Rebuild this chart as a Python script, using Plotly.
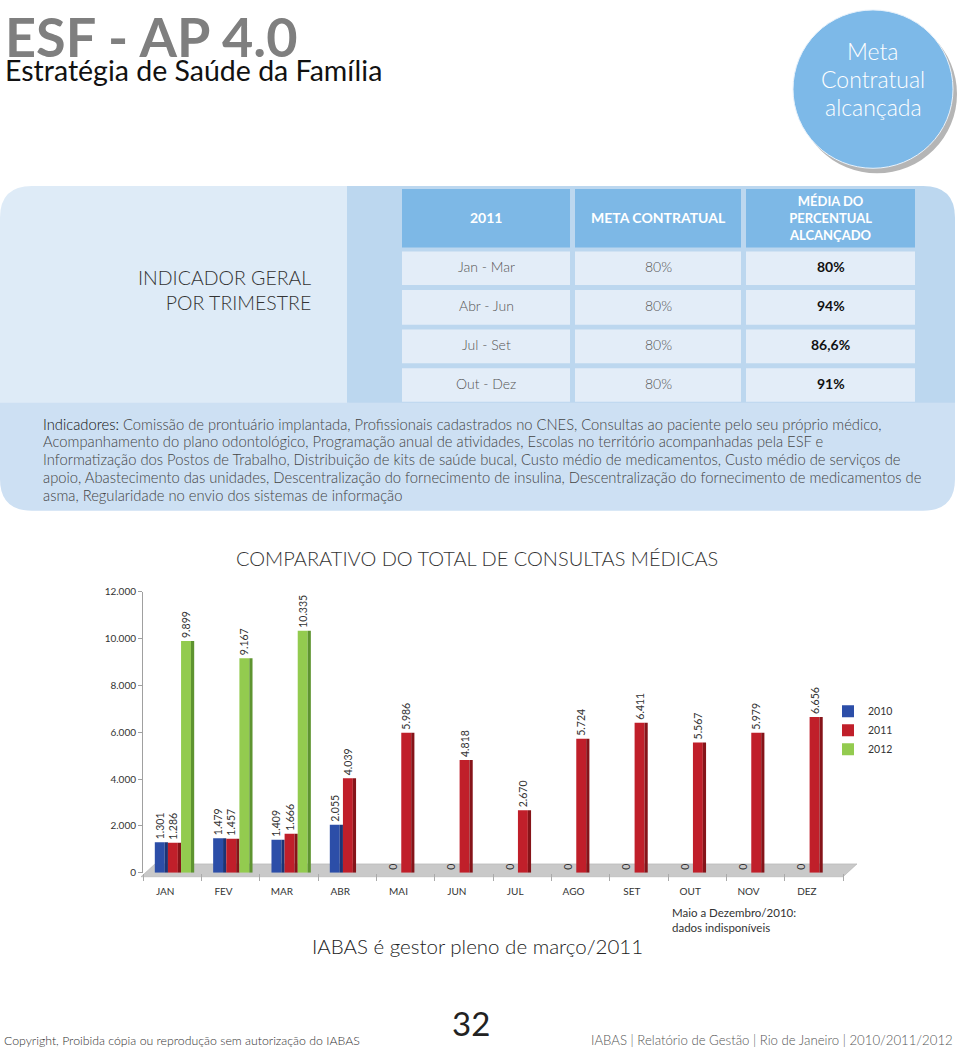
import plotly.graph_objects as go

W, H = 960, 1050

# ---------------- data ----------------
months = ["JAN", "FEV", "MAR", "ABR", "MAI", "JUN", "JUL", "AGO", "SET", "OUT", "NOV", "DEZ"]
v2010 = [1301, 1479, 1409, 2055, 0, 0, 0, 0, 0, 0, 0, 0]
v2011 = [1286, 1457, 1666, 4039, 5986, 4818, 2670, 5724, 6411, 5567, 5979, 6656]
v2012 = [9899, 9167, 10335, 0, 0, 0, 0, 0, 0, 0, 0, 0]
series_names = ["2010", "2011", "2012"]
y_ticks = [0, 2000, 4000, 6000, 8000, 10000, 12000]

table_header = ["2011", "META CONTRATUAL", "MÉDIA DO<br>PERCENTUAL<br>ALCANÇADO"]
quarters = ["Jan - Mar", "Abr - Jun", "Jul - Set", "Out - Dez"]
meta = ["80%", "80%", "80%", "80%"]
media = ["80%", "94%", "86,6%", "91%"]

indicadores_lines = [
    "Comissão de prontuário implantada, Profissionais cadastrados no CNES, Consultas ao paciente pelo seu próprio médico,",
    "Acompanhamento do plano odontológico, Programação anual de atividades, Escolas no território acompanhadas pela ESF e",
    "Informatização dos Postos de Trabalho, Distribuição de kits de saúde bucal, Custo médio de medicamentos, Custo médio de serviços de",
    "apoio, Abastecimento das unidades, Descentralização do fornecimento de insulina, Descentralização do fornecimento de medicamentos de",
    "asma, Regularidade no envio dos sistemas de informação",
]

FONT = "Lato"


def px(x):
    return x / W


def py(y):
    return 1 - y / H


def fmt(v):
    return f"{v:,}".replace(",", ".")


def rrect(x0, y0, x1, y1, tl=0, tr=0, br=0, bl=0):
    pts = []
    pts.append(f"M {px(x0 + tl)},{py(y0)}")
    pts.append(f"L {px(x1 - tr)},{py(y0)}")
    if tr:
        pts.append(f"Q {px(x1)},{py(y0)} {px(x1)},{py(y0 + tr)}")
    pts.append(f"L {px(x1)},{py(y1 - br)}")
    if br:
        pts.append(f"Q {px(x1)},{py(y1)} {px(x1 - br)},{py(y1)}")
    pts.append(f"L {px(x0 + bl)},{py(y1)}")
    if bl:
        pts.append(f"Q {px(x0)},{py(y1)} {px(x0)},{py(y1 - bl)}")
    pts.append(f"L {px(x0)},{py(y0 + tl)}")
    if tl:
        pts.append(f"Q {px(x0)},{py(y0)} {px(x0 + tl)},{py(y0)}")
    pts.append("Z")
    return " ".join(pts)


shapes = []
annots = []


def rect(x0, y0, x1, y1, color):
    shapes.append(dict(type="rect", xref="paper", yref="paper", x0=px(x0), x1=px(x1),
                       y0=py(y1), y1=py(y0), fillcolor=color, line=dict(width=0), layer="below"))


def text(x, y, s, size, color="#333333", xanchor="left", yanchor="middle", family=FONT,
         bold=False, weight=None):
    if bold:
        s = f"<b>{s}</b>"
    f = dict(family=family, size=size, color=color)
    if weight:
        f["weight"] = weight
    annots.append(dict(x=px(x), y=py(y), xref="paper", yref="paper", text=s, showarrow=False,
                       xanchor=xanchor, yanchor=yanchor,
                       align="center" if xanchor == "center" else xanchor,
                       font=f))


# ---------------- header ----------------
text(3, 31, "ESF - AP 4.0", 54, "#7f7f7f", bold=True)
text(3, 65, "Estratégia de Saúde da Família", 28.5, "#111111")

# circle
cx, cy, r = 873, 84, 80
shapes.append(dict(type="circle", xref="paper", yref="paper", x0=px(cx - r + 4), x1=px(cx + r + 4),
                   y0=py(cy + r + 5), y1=py(cy - r + 5), fillcolor="rgba(90,90,90,0.45)",
                   line=dict(width=0), layer="below"))
shapes.append(dict(type="circle", xref="paper", yref="paper", x0=px(cx - r), x1=px(cx + r),
                   y0=py(cy + r), y1=py(cy - r), fillcolor="#7db9e8",
                   line=dict(width=1, color="#e8f2fb"), layer="below"))
for i, s in enumerate(["Meta", "Contratual", "alcançada"]):
    text(cx, 45 + i * 28.5, s, 23, "#ffffff", xanchor="center", weight=300)

# ---------------- panel ----------------
shapes.append(dict(type="path", xref="paper", yref="paper", path=rrect(0, 400, 955, 510, br=32, bl=32),
                   fillcolor="#cde0f3", line=dict(width=0), layer="below"))
shapes.append(dict(type="path", xref="paper", yref="paper", path=rrect(0, 182, 349, 401, tl=32),
                   fillcolor="#deebf7", line=dict(width=0), layer="below"))
shapes.append(dict(type="path", xref="paper", yref="paper", path=rrect(347, 182, 955, 401, tr=32),
                   fillcolor="#bcd7ef", line=dict(width=0), layer="below"))

cols = [(402, 570), (575, 741), (746, 915)]
rows = [(248, 282), (287, 322), (327, 361), (366, 400)]
for (x0, x1), h in zip(cols, table_header):
    rect(x0, 185, x1, 244, "#7db8e6")
    text((x0 + x1) / 2, 214, h, 13 if "<br>" in h else 14, "#ffffff", xanchor="center", bold=True)
for ri, (y0, y1) in enumerate(rows):
    for ci, (x0, x1) in enumerate(cols):
        rect(x0, y0, x1, y1, "#e3edf8")
    yc = (y0 + y1) / 2 - 2
    text((cols[0][0] + cols[0][1]) / 2, yc, quarters[ri], 14, "#555555", xanchor="center", weight=300)
    text((cols[1][0] + cols[1][1]) / 2, yc, meta[ri], 14, "#555555", xanchor="center", weight=300)
    text((cols[2][0] + cols[2][1]) / 2, yc, media[ri], 14, "#111111", xanchor="center", bold=True)

text(313, 287, "INDICADOR GERAL<br>POR TRIMESTRE", 19.5, "#333333", xanchor="right", weight=300)

for i, line in enumerate(indicadores_lines):
    s = ("<span style='color:#111111'>Indicadores:</span> " + line) if i == 0 else line
    text(41, 422 + i * 18.1, s, 14.75, "#444444", weight=300)

# ---------------- chart texts ----------------
text(477, 558, "COMPARATIVO DO TOTAL DE CONSULTAS MÉDICAS", 20, "#333333", xanchor="center", weight=300)
text(670, 924, "Maio a Dezembro/2010:<br>dados indisponíveis", 11.5, "#333333")
text(477, 950, "IABAS é gestor pleno de março/2011", 20.5, "#222222", xanchor="center", weight=300)

# footer
text(2, 1045, "Copyright, Proibida cópia ou reprodução sem autorização do IABAS", 12.3, "#333333",
     weight=300)
text(471, 1050, "32", 33, "#222222", xanchor="center", yanchor="bottom")
text(955, 1045, "IABAS | Relatório de Gestão | Rio de Janeiro | 2010/2011/2012", 13.2, "#555555",
     xanchor="right", weight=300)

# floor of 3D chart
shapes.append(dict(type="path", xref="paper", yref="paper",
                   path=f"M {px(141)},{py(880)} L {px(843)},{py(880)} L {px(857)},{py(867)} L {px(155)},{py(867)} Z",
                   fillcolor="#c9c9c9", line=dict(width=0.6, color="#b0b0b0"), layer="below"))

# ---------------- bars ----------------
face_colors = ["#2c4ea8", "#c01f2a", "#93cb4f"]
side_colors = ["#1c3475", "#861419", "#5e9430"]
series = [v2010, v2011, v2012]
fw, sw, pitch = 0.17, 0.055, 0.225
start = -1.5 * pitch + 0.04

fig = go.Figure()
for i, (vals, name) in enumerate(zip(series, series_names)):
    off = start + i * pitch
    if i == 2:
        labels = [fmt(v) if v > 0 else "" for v in vals]
    else:
        labels = [fmt(v) for v in vals]
    fig.add_trace(go.Bar(x=months, y=vals, name=name, offset=off, width=fw,
                         marker=dict(color=face_colors[i], line=dict(width=0)),
                         text=labels, textposition="outside", textangle=-90, constraintext="none",
                         textfont=dict(family=FONT, size=10.5, color="#333333"),
                         cliponaxis=False, hoverinfo="x+y+name", legendrank=i))
    fig.add_trace(go.Bar(x=months, y=vals, name=name + " ", offset=off + fw, width=sw,
                         marker=dict(color=side_colors[i], line=dict(width=0)),
                         showlegend=False, hoverinfo="skip", cliponaxis=False))

fig.update_layout(
    width=W, height=H, autosize=False,
    margin=dict(l=0, r=0, t=0, b=0),
    paper_bgcolor="#ffffff", plot_bgcolor="rgba(0,0,0,0)",
    barmode="overlay", separators=",.",
    shapes=shapes, annotations=annots,
    font=dict(family=FONT, color="#333333"),
    showlegend=True,
    legend=dict(x=px(828), y=py(698), xanchor="left", yanchor="top",
                font=dict(family=FONT, size=10.5, color="#333333"),
                bgcolor="rgba(0,0,0,0)", tracegroupgap=0, itemwidth=30),
    xaxis=dict(domain=[px(143), px(843)], type="category", showline=False, showgrid=False,
               ticks="outside", tickson="boundaries", ticklen=7, tickcolor="#aaaaaa",
               tickfont=dict(family=FONT, size=10, color="#333333"), ticklabelshift=-7,
               ticklabelstandoff=11, zeroline=False, fixedrange=True),
    yaxis=dict(domain=[py(876), py(592)], range=[0, 12000], tickvals=y_ticks,
               tickformat=",.0f", showline=True, linecolor="#a0a0a0", linewidth=1,
               ticks="outside", ticklen=4, tickcolor="#a0a0a0", showgrid=False, zeroline=False,
               tickfont=dict(family=FONT, size=10, color="#333333"), fixedrange=True),
)

fig.write_html(
    "out.html",
    config={"displayModeBar": False},
    post_script="document.body.style.margin='0px';document.body.style.overflow='hidden';"
                "document.documentElement.style.overflow='hidden';",
)
